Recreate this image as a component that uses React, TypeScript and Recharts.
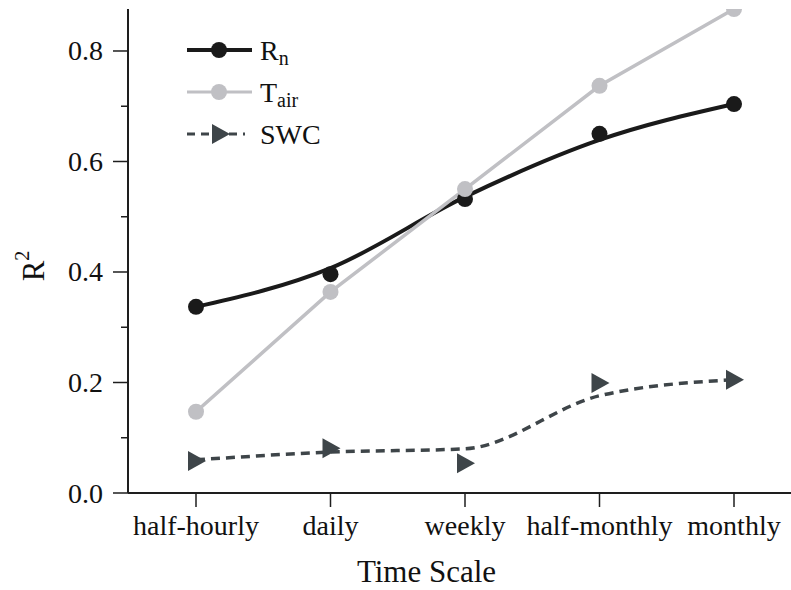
import React from 'react';
import { LineChart, Line, XAxis, YAxis, Legend, Label } from 'recharts';

const categories = ['half-hourly', 'daily', 'weekly', 'half-monthly', 'monthly'];
// measured R2 values
const rnPoints = [0.337, 0.396, 0.532, 0.65, 0.704];
const tairPoints = [0.147, 0.364, 0.55, 0.737, 0.876];
const swcPoints = [0.058, 0.081, 0.054, 0.199, 0.205];
// smoothed fit curves
const rnFit = [0.337, 0.407, 0.536, 0.639, 0.704];
const swcFit = [0.06, 0.074, 0.08, 0.176, 0.205];

const yTicks = [0, 0.1, 0.2, 0.3, 0.4, 0.5, 0.6, 0.7, 0.8];
const yMax = 0.876;

const data = categories.map((cat, i) => ({
  cat,
  rn: rnPoints[i],
  rnFit: rnFit[i],
  tair: tairPoints[i],
  swc: swcPoints[i],
  swcFit: swcFit[i]
}));

const FONT = '"Liberation Serif", "Times New Roman", serif';
const AXIS = '#1e1e1e';
const RN = '#1a1a1a';
const TAIR = '#c0c0c4';
const SWC = '#3e4549';

const YTick = (props: any) => {
  const { x, y, payload } = props;
  const major = Math.round(payload.value * 10) % 2 === 0;
  const axisX = x + 25;
  return (
    <g>
      <line x1={axisX - (major ? 15 : 7)} x2={axisX} y1={y} y2={y} stroke={AXIS} strokeWidth={1.5} />
      {major && (
        <text x={x} y={y} textAnchor="end" dominantBaseline="central" fontSize={28} fontFamily={FONT} fill="#111">
          {payload.value.toFixed(1)}
        </text>
      )}
    </g>
  );
};

const Triangle = (props: any) => {
  const { cx, cy } = props;
  if (cx == null || cy == null) return null;
  return <polygon points={`${cx - 8},${cy - 10} ${cx + 10},${cy} ${cx - 8},${cy + 10}`} fill={SWC} />;
};

const LegendBox = () => (
  <svg width={220} height={130} style={{ display: 'block' }}>
    <g fontFamily={FONT} fill="#111">
      <line x1={2} x2={67} y1={21} y2={21} stroke={RN} strokeWidth={4} />
      <circle cx={34} cy={21} r={8} fill={RN} />
      <text x={75} y={21} fontSize={28} dominantBaseline="central">
        R<tspan fontSize={20} dy={8}>n</tspan>
      </text>
      <line x1={2} x2={67} y1={63} y2={63} stroke={TAIR} strokeWidth={3} />
      <circle cx={34} cy={63} r={8} fill={TAIR} />
      <text x={75} y={63} fontSize={28} dominantBaseline="central">
        T<tspan fontSize={20} dy={8}>air</tspan>
      </text>
      <line x1={2} x2={60} y1={105} y2={105} stroke={SWC} strokeWidth={3} strokeDasharray="8 6" />
      <polygon points="27,95 45,105 27,115" fill={SWC} />
      <text x={75} y={105} fontSize={28} dominantBaseline="central">SWC</text>
    </g>
  </svg>
);

const YLabel = (props: any) => {
  const { viewBox } = props;
  const cx = 33;
  const cy = viewBox.y + viewBox.height / 2 + 15;
  return (
    <text x={cx} y={cy} transform={`rotate(-90, ${cx}, ${cy})`} textAnchor="middle" dominantBaseline="central" fontSize={31} fontFamily={FONT} fill="#111">
      R<tspan fontSize={20} dy={-11}>2</tspan>
    </text>
  );
};

export default function App() {
  return (
    <div style={{ position: 'absolute', left: 0, top: 0, width: 791, height: 590, background: '#fff' }}>
      <LineChart width={791} height={590} data={data} margin={{ top: 9, right: 0, bottom: 0, left: 0 }}>
        <XAxis
          dataKey="cat"
          type="category"
          padding={{ left: 68, right: 57 }}
          height={97}
          tickSize={14}
          tickMargin={8}
          interval={0}
          axisLine={{ stroke: AXIS, strokeWidth: 2 }}
          tickLine={{ stroke: AXIS, strokeWidth: 1.5 }}
          tick={{ fontSize: 28, fontFamily: FONT, fill: '#111' }}
        >
          <Label value="Time Scale" position="insideBottom" offset={8} dx={-33} style={{ fontSize: 31, fontFamily: FONT, fill: '#111' }} />
        </XAxis>
        <XAxis xAxisId="top" dataKey="cat" orientation="top" height={0} tick={false} tickLine={false} axisLine={{ stroke: AXIS, strokeWidth: 2 }} padding={{ left: 68, right: 57 }} />
        <YAxis
          type="number"
          domain={[0, yMax]}
          ticks={yTicks}
          allowDataOverflow
          width={128}
          tickSize={15}
          tickMargin={10}
          tickLine={false}
          axisLine={{ stroke: AXIS, strokeWidth: 2 }}
          tick={<YTick />}
          label={<YLabel />}
        />
        <Legend
          layout="vertical"
          align="center"
          verticalAlign="middle"
          content={() => <LegendBox />}
          wrapperStyle={{ position: 'absolute', left: 185, top: 29, width: 220, height: 130 }}
        />
        <Line dataKey="swcFit" type="monotone" stroke={SWC} strokeWidth={3.5} strokeDasharray="9 6" dot={false} isAnimationActive={false} />
        <Line dataKey="swc" stroke="none" dot={<Triangle />} activeDot={false} isAnimationActive={false} />
        <Line dataKey="rnFit" type="monotone" stroke={RN} strokeWidth={4} dot={false} isAnimationActive={false} />
        <Line dataKey="rn" stroke="none" dot={{ r: 8, fill: RN, stroke: 'none' }} activeDot={false} isAnimationActive={false} />
        <Line dataKey="tair" type="linear" stroke={TAIR} strokeWidth={3.5} dot={{ r: 8, fill: TAIR, stroke: 'none' }} activeDot={false} isAnimationActive={false} />
      </LineChart>
    </div>
  );
}
